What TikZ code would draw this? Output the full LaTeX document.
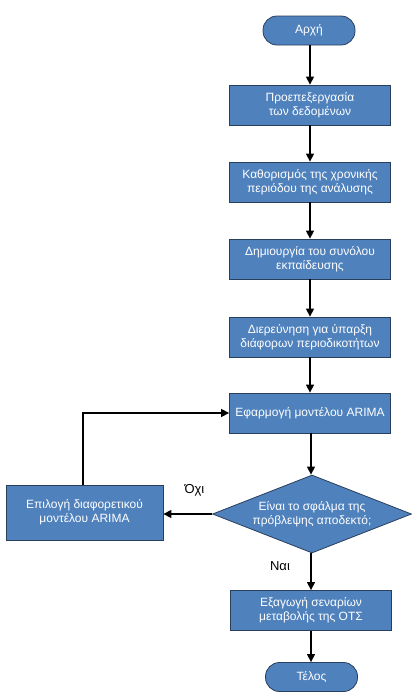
\documentclass[tikz,border=0pt]{standalone}
\usepackage{fontspec}
\setmainfont{Liberation Sans}
\usetikzlibrary{shapes.geometric,arrows.meta}
\definecolor{boxfill}{HTML}{4F81BD}
\definecolor{boxline}{HTML}{2A3F5C}
\tikzset{
  base/.style={draw=boxline, line width=0.8pt, fill=boxfill, text=white, font=\fontsize{12}{14}\selectfont, align=center, inner sep=0pt},
  proc/.style={base, rectangle, minimum width=161pt, minimum height=40pt},
  term/.style={base, rectangle, rounded corners=14pt, minimum width=92pt, minimum height=29pt},
  dec/.style={base, diamond, aspect=2.55, minimum width=199pt, minimum height=78pt},
  arr/.style={line width=1.4pt, -{Triangle[width=8pt,length=8pt]}},
  lbl/.style={font=\fontsize{13}{15}\selectfont}
}
\begin{document}
\begin{tikzpicture}[x=1pt,y=-1pt]
\useasboundingbox (0,0) rectangle (418,697);
\node[term] (start) at (309,30.5) {Αρχή};
\node[proc] (b1) at (310,105) {Προεπεξεργασία\\των δεδομένων};
\node[proc] (b2) at (310,182) {Καθορισμός της χρονικής\\περιόδου της ανάλυσης};
\node[proc] (b3) at (310,259) {Δημιουργία του συνόλου\\εκπαίδευσης};
\node[proc] (b4) at (310,337) {Διερεύνηση για ύπαρξη\\διάφορων περιοδικοτήτων};
\node[proc] (b5) at (310,413) {Εφαρμογή μοντέλου ARIMA};
\node[dec] (d) at (312,514) {Είναι το σφάλμα της\\πρόβλεψης αποδεκτό;};
\node[proc, minimum width=157pt, minimum height=55pt] (alt) at (84.5,512.5) {Επιλογή διαφορετικού\\μοντέλου ARIMA};
\node[proc] (b6) at (311,610.5) {Εξαγωγή σεναρίων\\μεταβολής της ΟΤΣ};
\node[term] (end) at (311.5,677) {Τέλος};
\coordinate (corner) at (83,413);
\node[lbl] (no) at (194.5,490) {Όχι};
\node[lbl] (yes) at (280,566) {Ναι};
\draw[arr] (start.south -| 310,0) -- (b1.north -| 310,0);
\draw[arr] (b1) -- (b2);
\draw[arr] (b2) -- (b3);
\draw[arr] (b3) -- (b4);
\draw[arr] (b4) -- (b5);
\draw[arr] (b5.south -| 311,0) -- (d.north -| 311,0);
\draw[arr] (d.west) -- (d.west -| alt.east);
\draw[arr] (alt.north -| corner) -- (corner) -- (b5.west);
\draw[arr] (d.south -| 311,0) -- (b6.north -| 311,0);
\draw[arr] (b6.south -| 311,0) -- (end.north -| 311,0);
\end{tikzpicture}
\end{document}
